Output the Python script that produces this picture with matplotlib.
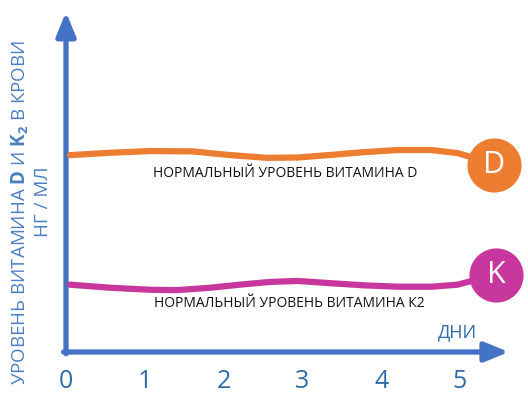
import numpy as np
import matplotlib
matplotlib.use("Agg")
import matplotlib.pyplot as plt

plt.rcParams['font.family'] = ['Open Sans', 'DejaVu Sans']
plt.rcParams['mathtext.fontset'] = 'custom'
plt.rcParams['mathtext.rm'] = 'Open Sans'
plt.rcParams['mathtext.bf'] = 'Open Sans:bold'

# %% Data
days = [0, 1, 2, 3, 4, 5]
tick_labels = ['0', '1', '2', '3', '4', '5']

d_days = [0.05, 0.56, 1.07, 1.61, 2.04, 2.55, 2.94, 3.38, 3.79, 4.21, 4.64, 4.97, 5.13, 5.30]
d_level = [5.79, 5.86, 5.91, 5.90, 5.80, 5.71, 5.72, 5.80, 5.88, 5.94, 5.94, 5.85, 5.74, 5.60]

k_days = [0.05, 0.56, 1.07, 1.41, 1.83, 2.25, 2.59, 2.94, 3.38, 3.79, 4.21, 4.64, 4.97, 5.13, 5.30]
k_level = [1.98, 1.89, 1.83, 1.82, 1.89, 1.99, 2.06, 2.09, 2.02, 1.96, 1.92, 1.92, 1.98, 2.08, 2.18]

badge_days = [5.43, 5.46]
badge_level = [5.50, 2.26]
badge_text = ['D', 'K']
series_colors = ['#ED7D31', '#C8379D']

label_d = "НОРМАЛЬНЫЙ УРОВЕНЬ ВИТАМИНА D"
label_k = "НОРМАЛЬНЫЙ УРОВЕНЬ ВИТАМИНА К2"

# %% Figure
axis_blue = '#4472C4'
text_blue = '#2F6BA8'

fig = plt.figure(figsize=(5.28, 3.96), dpi=100)
ax = fig.add_axes([66/528, 44/396, 462/528, 352/396])
ax.set_xlim(0, 462/78.8)
ax.set_ylim(0, 352/34)
for s in ax.spines.values():
    s.set_visible(False)
ax.set_yticks([])
ax.set_xticks(days)
ax.set_xticklabels(tick_labels)
ax.tick_params(axis='x', length=0, pad=12, labelsize=18, labelcolor=text_blue)

# axes with arrows
arrow = dict(arrowstyle='-|>,head_width=0.45,head_length=1.1', lw=3.8,
             color=axis_blue, shrinkA=0, shrinkB=0, mutation_scale=13)
ax.annotate('', xy=(0, 10.0), xytext=(0, -0.05), arrowprops=arrow, annotation_clip=False)
ax.annotate('', xy=(5.62, 0), xytext=(-0.03, 0), arrowprops=arrow, annotation_clip=False)

# level lines
ax.plot(d_days, d_level, color=series_colors[0], lw=4.5, solid_capstyle='round',
        solid_joinstyle='round', zorder=3)
ax.plot(k_days, k_level, color=series_colors[1], lw=4.5, solid_capstyle='round',
        solid_joinstyle='round', zorder=3)

for x, y, t, c in zip(badge_days, badge_level, badge_text, series_colors):
    ax.plot([x], [y], 'o', ms=39, color=c, mec='none', zorder=4, clip_on=False)
    ax.text(x, y, t, color='white', fontsize=22, ha='center', va='center',
            zorder=5)

ax.text(2.78, 5.26, label_d, fontsize=10, ha='center', va='center', color='#111111')
ax.text(2.83, 1.44, label_k, fontsize=10, ha='center', va='center', color='#111111')
ax.text(4.97, 0.59, "ДНИ", fontsize=13, ha='center', va='center', color=text_blue)

fig.text(20/528, 1 - 212/396, r"УРОВЕНЬ ВИТАМИНА $\mathbf{D}$ И $\mathbf{K_2}$ В КРОВИ",
         rotation=90, ha='center', va='center', fontsize=13.5, color='#4A7FC0')
fig.text(43/528, 1 - 202/396, "НГ / МЛ", rotation=90, ha='center', va='center',
         fontsize=13.5, color='#4A7FC0')

plt.savefig('out.png', dpi=100)
